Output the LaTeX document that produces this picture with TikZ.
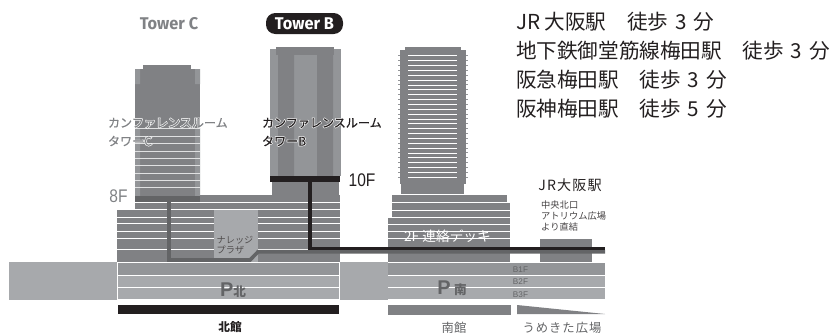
\documentclass[tikz,border=0pt]{standalone}
\usepackage{fontspec}
\setmainfont{Noto Sans CJK JP}
\newfontfamily\latinf{Fira Sans}
\newfontfamily\numf{Liberation Sans}
\newfontfamily\lblf[FakeBold=0.5]{Noto Sans CJK JP}
\definecolor{gd}{HTML}{808184}
\definecolor{gm}{HTML}{939598}
\definecolor{gl}{HTML}{A7A9AC}
\definecolor{gk}{HTML}{636466}
\definecolor{bk}{HTML}{231F20}
\definecolor{tg}{HTML}{808285}
\newcommand{\halo}[1]{\rlap{\special{pdf:code q 2 Tr 1 1 1 RG 1.2 w}{\mainfontfam #1}\special{pdf:code Q}}#1}
\newfontfamily\mainfontfam{Noto Sans CJK JP}
\newcommand{\wk}[1]{\hspace{0.33em}#1\hspace{0.33em}}
\tikzset{
 x=0.03cm,y=-0.03cm,
 wl/.style={white,line width=0.8pt},
 lbl/.style={inner sep=0,outer sep=0,font=\lblf\fontsize{10.3pt}{12pt}\selectfont,anchor=west,align=left},
 info/.style={inner sep=0,outer sep=0,anchor=west,font=\fontsize{17.6pt}{19pt}\selectfont},
 sm/.style={inner sep=0,outer sep=0,anchor=center,font=\fontsize{9.6pt}{10pt}\selectfont},
 twr/.style={inner sep=0,font=\latinf\bfseries\fontsize{14.5pt}{16pt}\selectfont},
 flr/.style={inner sep=0,font=\numf\fontsize{15.6pt}{17pt}\selectfont},
 bsm/.style={sm,text=gk,font=\numf\fontsize{7pt}{8pt}\selectfont},
 pk/.style={inner sep=0,text=gk,font=\numf\bfseries\fontsize{17pt}{18pt}\selectfont},
 route/.style={line width=3.1pt,line cap=butt,line join=miter}
}
\begin{document}
\begin{tikzpicture}
\useasboundingbox (0,0) rectangle (833,333);
% parking north/south
\fill[gl] (9,262) rectangle (605,300);
\fill[gm] (117,262) rectangle (339,275);
\fill[gm] (388,262) rectangle (605,275);
\draw[wl] (117,275.5) -- (339,275.5) (388,275.5) -- (605,275.5);
\draw[wl] (117,287) -- (339,287) (388,287) -- (605,287);
\draw[wl] (117,262) -- (339,262) (388,262) -- (605,262);
\draw[wl,line width=1.2pt] (117,300) -- (339,300) (388,300) -- (605,300);
\draw[white,line width=.5pt] (117,262) -- (117,300) (339,262) -- (339,300);
\fill[bk] (118,305) rectangle (339,314);
\fill[gd] (388,305) rectangle (511,315);
\fill[gd] (517,305) -- (605,314) -- (517,314) -- cycle;
% north podium
\fill[gd] (117,210) rectangle (340,262);
\fill[gd] (135,195) rectangle (340,209.5);
\foreach \yy in {209.5,217,223.5,231,238.5,249}
  \draw[wl] (117,\yy) -- (340,\yy);
\draw[wl] (135,202.5) -- (340,202.5);
% tower C
\fill[gd] (143,65) rectangle (191,70);
\fill[gd] (135,69) rectangle (200,196);
\fill[gm] (135,69) rectangle (140,84) (195,69) rectangle (200,84);
\fill[gm] (135,128) rectangle (140,196) (195,128) rectangle (200,196);
\foreach \yy in {128.5,136,143.5,151,158,165.5,173,180,187.5}
  \draw[gl!35,line width=.7pt] (135,\yy) -- (200,\yy);
\fill[gk] (135,196) rectangle (200,202);
% tower B
\fill[gd] (276,47) rectangle (334,50);
\fill[gm] (270,49) rectangle (341,55);
\fill[gd] (276,49) rectangle (334,55);
\fill[gm] (270,55) rectangle (341,176);
\fill[gd] (278,55) rectangle (294,176) (317,55) rectangle (333,176);
\fill[gd] (272,182) rectangle (339,195);
% knowledge plaza
\fill[gl] (214,210) rectangle (258,262);
% south tower
\fill[gd] (405,47) rectangle (461,51);
\fill[gd] (400,50) rectangle (466,184);
\fill[gd] (401,183) rectangle (464,194);
\foreach \i in {0,...,25}{
  \draw[wl,line width=.6pt] (408,{55.7+\i*4.86}) -- (457,{55.7+\i*4.86});
  \draw[gm,line width=.8pt] (398,{55.7+\i*4.86}) -- (400,{55.7+\i*4.86}) (466,{55.7+\i*4.86}) -- (468,{55.7+\i*4.86});
}
% south podium
\fill[gd] (392,195) rectangle (507,202);
\fill[gd] (392,203) rectangle (510,209.5);
\fill[gd] (392,210.5) rectangle (510,217);
\fill[gd] (388,217.5) rectangle (510,262);
\foreach \yy in {224,231.5,238.5}
  \draw[wl] (388,\yy) -- (510,\yy);
% JR block
\fill[gd] (540,239) rectangle (592,262);
% routes
\coordinate (c8) at (169,199);
\coordinate (cb) at (169,260);
\coordinate (cd) at (250,260);
\coordinate (ce) at (258,251.8);
\coordinate (cf) at (605,251.8);
\draw[route,gk] (c8) -- (cb) -- (cd) -- (ce) -- (cf);
\fill[bk] (270,176) rectangle (340,182);
\coordinate (b10) at (310,180);
\coordinate (bc) at (310,248.5);
\coordinate (be) at (605,248.5);
\draw[route,bk] (b10) -- (bc) -- (be);
% labels
\node[twr,text=tg] (tc) at (169,24) {\scalebox{.96}[1]{Tower C}};
\node[twr,fill=bk,text=white,rounded corners=8pt,minimum width=2.31cm,minimum height=0.63cm] (tb) at (304.5,23.5) {\scalebox{.96}[1]{Tower B}};
\node[lbl,text=tg] (cc) at (108,123) {\halo{カンファレンスルーム}};
\node[lbl,text=tg] (cc2) at (108,141) {\halo{タワーC}};
\node[lbl,text=bk] (cb1) at (262,123) {\halo{カンファレンスルーム}};
\node[lbl,text=bk] (cb2) at (262,141) {\halo{タワーB}};
\node[flr,text=tg] (f8) at (118.5,196) {\scalebox{.85}[1]{8F}};
\node[flr,text=bk] (f10) at (362,180) {\scalebox{.85}[1]{10F}};
\node[inner sep=0,text=bk!80,font=\fontsize{7.8pt}{8.6pt}\selectfont,align=left] (np) at (235,245) {ナレッジ\\プラザ};
\node[inner sep=0,text=white,font=\fontsize{11.7pt}{13pt}\selectfont] (deck) at (447.5,236) {2F 連絡デッキ};
\node[pk] (pn) at (233,290) {P\mainfontfam\fontsize{10.8pt}{11pt}\selectfont 北};
\node[pk] (ps) at (452,288) {P\hspace{3pt}\mainfontfam\fontsize{10.8pt}{11pt}\selectfont 南};
\node[bsm] (b1) at (520.5,270) {B1F};
\node[bsm] (b2) at (520.5,282) {B2F};
\node[bsm] (b3) at (520.5,294.5) {B3F};
\node[sm,text=bk,font=\bfseries\fontsize{10pt}{11pt}\selectfont] (nk) at (230,327) {北館};
\node[sm,text=gk,font=\fontsize{10.5pt}{11pt}\selectfont] (nn) at (454,328) {南館};
\node[sm,text=gk,font=\fontsize{10.5pt}{11pt}\selectfont\addfontfeature{LetterSpace=8}] (ume) at (562,328) {うめきた広場};
\node[sm,text=bk,font=\fontsize{12pt}{13pt}\selectfont\addfontfeature{LetterSpace=8}] (jr) at (570,185) {JR大阪駅};
\node[inner sep=0,anchor=west,text=bk!85,align=left,font=\fontsize{7.9pt}{9.7pt}\selectfont] (jrx) at (541,216) {中央北口\\アトリウム広場\\より直結};
\node[info,text=bk] (i1) at (516,22) {JR 大阪駅　徒歩\wk{3}分};
\node[info,text=bk] (i2) at (516,51) {地下鉄御堂筋線梅田駅　徒歩\wk{3}分};
\node[info,text=bk] (i3) at (516,80) {阪急梅田駅　徒歩\wk{3}分};
\node[info,text=bk] (i4) at (516,109) {阪神梅田駅　徒歩\wk{5}分};
\end{tikzpicture}
\end{document}
